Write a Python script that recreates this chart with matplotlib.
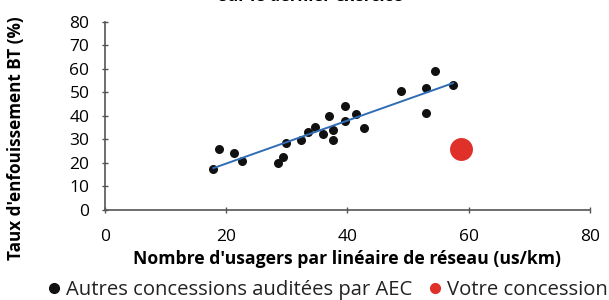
import numpy as np
import matplotlib.pyplot as plt
from matplotlib.lines import Line2D

# données
autres_x = [17.9, 18.8, 21.3, 22.6, 28.6, 29.4, 29.8, 32.4, 33.5, 34.7, 35.9, 36.9,
            37.6, 37.6, 39.6, 39.6, 41.4, 42.8, 48.9, 53.0, 52.9, 54.5, 57.4]
autres_y = [17.4, 25.7, 24.4, 20.9, 19.9, 22.3, 28.5, 29.8, 33.3, 35.2, 32.3, 40.0,
            34.0, 29.8, 44.0, 38.0, 40.9, 35.0, 50.6, 51.6, 41.4, 58.9, 52.9]
votre_x = [58.8]
votre_y = [26.0]

x_ticks = [0, 20, 40, 60, 80]
y_ticks = [0, 10, 20, 30, 40, 50, 60, 70, 80]

plt.rcParams['font.family'] = ['Open Sans', 'DejaVu Sans']

fig = plt.figure(figsize=(6.09, 3.0), dpi=100)
ax = fig.add_axes([0.172, 0.300, 0.797, 0.628])

ax.scatter(autres_x, autres_y, s=30, color='#111111', zorder=2)
ax.scatter(votre_x, votre_y, s=240, color='#e0302a', zorder=2)

# droite de tendance
a, b = np.polyfit(autres_x, autres_y, 1)
xs = np.array([min(autres_x), max(autres_x)])
ax.plot(xs, a * xs + b, color='#2f6db5', lw=1.4, zorder=3)

ax.set_xlim(0, 80)
ax.set_ylim(0, 80)
ax.set_xticks(x_ticks)
ax.set_yticks(y_ticks)
ax.tick_params(labelsize=12.5, color='#555555', length=4, direction='inout', width=1)
ax.tick_params(axis='x', pad=12)
ax.tick_params(axis='y', pad=9)
for s in ['top', 'right']:
    ax.spines[s].set_visible(False)
for s in ['left', 'bottom']:
    ax.spines[s].set_color('#555555')
    ax.spines[s].set_linewidth(1.2)

ax.set_xlabel("Nombre d'usagers par linéaire de réseau (us/km)", fontsize=12.7,
              fontweight='bold', labelpad=3)
fig.text(0.027, 0.54, "Taux d'enfouissement BT (%)", rotation=90, fontsize=12.3,
         fontweight='bold', ha='center', va='center')

fig.text(0.51, 1.012, "sur le dernier exercice", fontsize=12, fontweight='bold',
         ha='center', va='center')

handles = [Line2D([], [], marker='o', ls='', color='#111111', markersize=7),
           Line2D([], [], marker='o', ls='', color='#e0302a', markersize=7)]
fig.legend(handles, ['Autres concessions auditées par AEC', 'Votre concession'],
           loc='center', bbox_to_anchor=(0.535, 0.033), ncol=2, frameon=False,
           fontsize=14.6, handletextpad=0.1, columnspacing=0.6, handlelength=1,
           borderpad=0, labelcolor='#222222')

fig.savefig('out.png', dpi=100)
